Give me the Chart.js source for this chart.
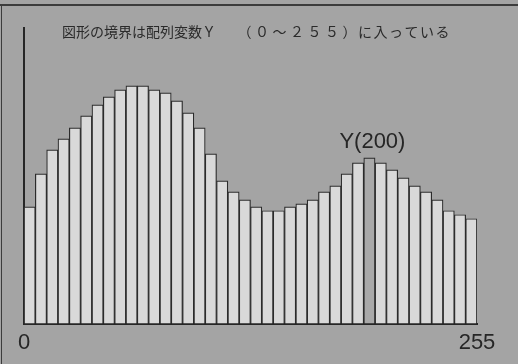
<!DOCTYPE html>
<html>
<head>
<meta charset="utf-8">
<script src="https://cdn.jsdelivr.net/npm/chart.js@4"></script>
<style>
  html, body { margin: 0; padding: 0; background: #a4a4a4; }
  canvas { display: block; }
</style>
</head>
<body>
<canvas id="boundaryChart" width="518" height="364"></canvas>
<script>
// heights of the 40 sample bars (arbitrary units, axis 0..296)
const barValues = [117, 150, 174, 185, 196, 208, 219, 227, 234, 238,
                   238, 234, 231, 223, 211, 196, 170, 143, 132, 124,
                   117, 113, 113, 117, 120, 124, 132, 138, 150, 161,
                   166, 161, 154, 146, 138, 132, 124, 113, 109, 105];
const barLabels = barValues.map((v, i) => i);
const rangeTicks = [0, 255];
const markIndex = 30;
const markLabel = 'Y(200)';
const titleParts = ['図形の境界は配列変数Ｙ', '（０～２５５）', 'に入っている'];

const BG = '#a4a4a4';
const INK = '#262626';

const decor = {
    id: 'decor',
    beforeDraw(chart) {
        const ctx = chart.ctx;
        const w = chart.width, h = chart.height;
        ctx.save();
        ctx.fillStyle = BG;
        ctx.fillRect(0, 0, w, h);
        // frame lines of the figure box
        ctx.strokeStyle = '#3c3c3c';
        ctx.lineWidth = 2;
        ctx.beginPath(); ctx.moveTo(0, 5); ctx.lineTo(w, 5); ctx.stroke();
        ctx.lineWidth = 1;
        ctx.beginPath(); ctx.moveTo(1.5, 5); ctx.lineTo(1.5, h); ctx.stroke();

        // caption
        ctx.fillStyle = '#2a2a2a';
        ctx.font = '14px "Noto Sans CJK JP"';
        ctx.textBaseline = 'middle';
        const starts = [62, 237.5, 358];
        const spacing = ['0px', '3.5px', '1.5px'];
        titleParts.forEach((t, i) => {
            ctx.letterSpacing = spacing[i];
            ctx.fillText(t, starts[i], 31.5);
        });
        ctx.letterSpacing = '0px';
        ctx.restore();
    },
    afterDatasetsDraw(chart) {
        const bar = chart.getDatasetMeta(0).data[markIndex];
        if (!bar) return;
        const ctx = chart.ctx;
        ctx.save();
        ctx.fillStyle = INK;
        ctx.font = '22px "Liberation Sans"';
        ctx.textAlign = 'center';
        ctx.textBaseline = 'alphabetic';
        ctx.fillText(markLabel, bar.x + 3, bar.y - 10);
        ctx.restore();
    }
};

new Chart(document.getElementById('boundaryChart'), {
    type: 'bar',
    data: {
        labels: barLabels,
        datasets: [{
            data: barValues,
            backgroundColor: barValues.map((v, i) => i === markIndex ? '#a9a9a9' : '#d9d9d9'),
            borderColor: '#2b2b2b',
            borderWidth: 1.2,
            barPercentage: 1,
            categoryPercentage: 1
        }]
    },
    options: {
        responsive: false,
        animation: false,
        events: [],
        layout: { padding: { left: 24, right: 41, top: 28, bottom: 2 } },
        plugins: { legend: { display: false }, tooltip: { enabled: false } },
        scales: {
            x: {
                weight: 0,
                ticks: { display: false },
                grid: { display: false, drawTicks: false },
                border: { display: true, color: INK, width: 2 }
            },
            x2: {
                type: 'linear',
                position: 'bottom',
                weight: 1,
                offset: false,
                min: rangeTicks[0],
                max: rangeTicks[1],
                afterBuildTicks: (scale) => { scale.ticks = rangeTicks.map(v => ({ value: v })); },
                ticks: {
                    color: INK,
                    font: { family: '"Liberation Sans"', size: 22 },
                    padding: 6,
                    maxRotation: 0,
                    autoSkip: false
                },
                grid: { display: false, drawTicks: false, offset: false },
                border: { display: false }
            },
            y: {
                min: 0,
                max: 296,
                ticks: { display: false },
                grid: { display: false, drawTicks: false },
                border: { display: true, color: INK, width: 2 }
            }
        }
    },
    plugins: [decor]
});
</script>
</body>
</html>
